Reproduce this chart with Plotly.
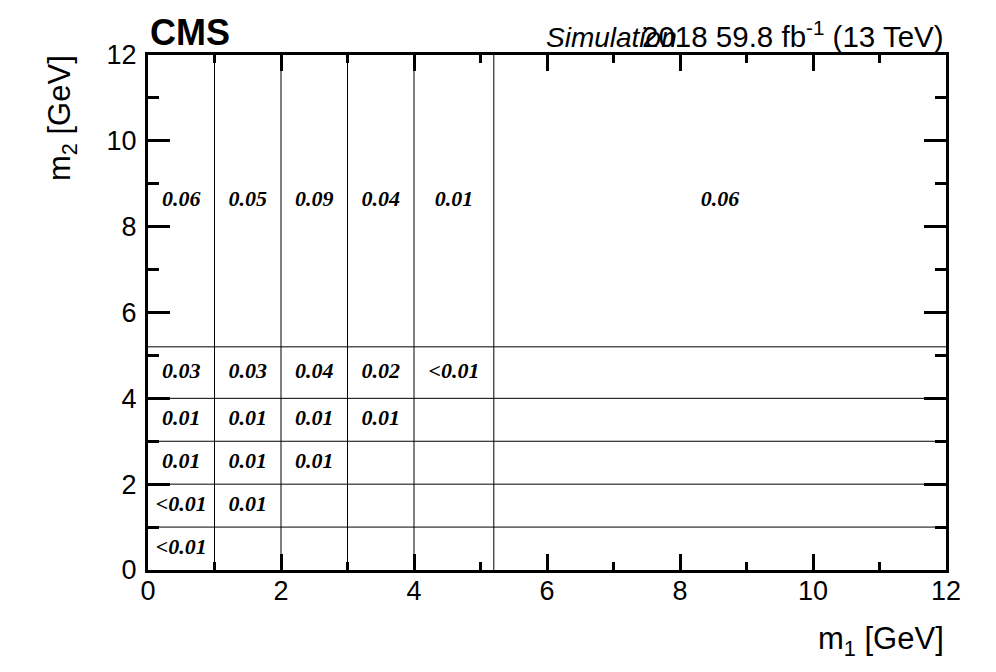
import plotly.graph_objects as go

# ---- data ----
m1_edges = [0, 1, 2, 3, 4, 5.2, 12]
m2_edges = [0, 1, 2, 3, 4, 5.2, 12]
# cell labels, rows = m2 bins (low -> high), columns = m1 bins (low -> high)
cell_labels = [
    ["<0.01", "", "", "", "", ""],
    ["<0.01", "0.01", "", "", "", ""],
    ["0.01", "0.01", "0.01", "", "", ""],
    ["0.01", "0.01", "0.01", "0.01", "", ""],
    ["0.03", "0.03", "0.04", "0.02", "<0.01", ""],
    ["0.06", "0.05", "0.09", "0.04", "0.01", "0.06"],
]
x_ticks = [0, 2, 4, 6, 8, 10, 12]
y_ticks = [0, 2, 4, 6, 8, 10, 12]

xmin, xmax = m1_edges[0], m1_edges[-1]
ymin, ymax = m2_edges[0], m2_edges[-1]

fig = go.Figure()

# bin boundary lines
lx, ly = [], []
for e in m1_edges[1:-1]:
    lx += [e, e, None]
    ly += [ymin, ymax, None]
for e in m2_edges[1:-1]:
    lx += [xmin, xmax, None]
    ly += [e, e, None]
fig.add_trace(go.Scatter(x=lx, y=ly, mode="lines",
                         line=dict(color="black", width=1),
                         hoverinfo="skip", showlegend=False))

# cell text
tx, ty, tt = [], [], []
for j, row in enumerate(cell_labels):
    for i, lab in enumerate(row):
        if lab:
            tx.append((m1_edges[i] + m1_edges[i + 1]) / 2)
            ty.append((m2_edges[j] + m2_edges[j + 1]) / 2)
            tt.append(lab.replace("<", "&lt;"))
fig.add_trace(go.Scatter(x=tx, y=ty, text=tt, mode="text",
                         textposition="middle center",
                         textfont=dict(family="Liberation Serif", size=22,
                                       color="black", weight="bold",
                                       style="italic"),
                         hoverinfo="skip", showlegend=False))

axis_common = dict(
    showline=True, linewidth=3, linecolor="black", mirror="ticks",
    ticks="inside", tickwidth=3, tickcolor="black",
    showgrid=False, zeroline=False,
    tickfont=dict(family="Liberation Sans", size=27, color="black"),
)

fig.update_xaxes(range=[xmin, xmax], tickvals=x_ticks, ticklen=16,
                 ticklabelstandoff=-5,
                 minor=dict(dtick=1, tick0=0, ticks="inside", ticklen=8,
                            tickwidth=3, tickcolor="black", showgrid=False),
                 **axis_common)
fig.update_yaxes(range=[ymin, ymax], tickvals=y_ticks, ticklen=22,
                 ticklabelstandoff=3,
                 minor=dict(dtick=1, tick0=0, ticks="inside", ticklen=11,
                            tickwidth=3, tickcolor="black", showgrid=False),
                 **axis_common)

annotations = [
    dict(text="<b>CMS</b>", x=0, y=1, xref="paper", yref="paper",
         xanchor="left", yanchor="bottom", yshift=0, showarrow=False,
         font=dict(family="Liberation Sans", size=36, color="black")),
    dict(text="<i>Simulation</i>", x=0.4968, y=1, xref="paper", yref="paper",
         xanchor="left", yanchor="bottom", yshift=0, showarrow=False,
         font=dict(family="Liberation Sans", size=28, color="black")),
    dict(text="2018 59.8 fb<sup>-1</sup> (13 TeV)", x=1, y=1, xref="paper",
         yref="paper", xanchor="right", yanchor="bottom", yshift=0,
         showarrow=False,
         font=dict(family="Liberation Sans", size=29.5, color="black")),
    dict(text="m<sub>1</sub> [GeV]", x=1, y=0, xref="paper", yref="paper",
         xanchor="right", yanchor="top", yshift=-49, showarrow=False,
         font=dict(family="Liberation Sans", size=31, color="black")),
    dict(text="m<sub>2</sub> [GeV]", x=0, y=1, xref="paper", yref="paper",
         xanchor="center", yanchor="top", xshift=-86, yshift=2,
         showarrow=False, textangle=-90,
         font=dict(family="Liberation Sans", size=31, color="black")),
]

fig.update_layout(
    width=996, height=672,
    margin=dict(l=140, r=58, t=47, b=110),
    paper_bgcolor="white", plot_bgcolor="white",
    annotations=annotations,
    showlegend=False,
)

fig.write_html("out.html")
